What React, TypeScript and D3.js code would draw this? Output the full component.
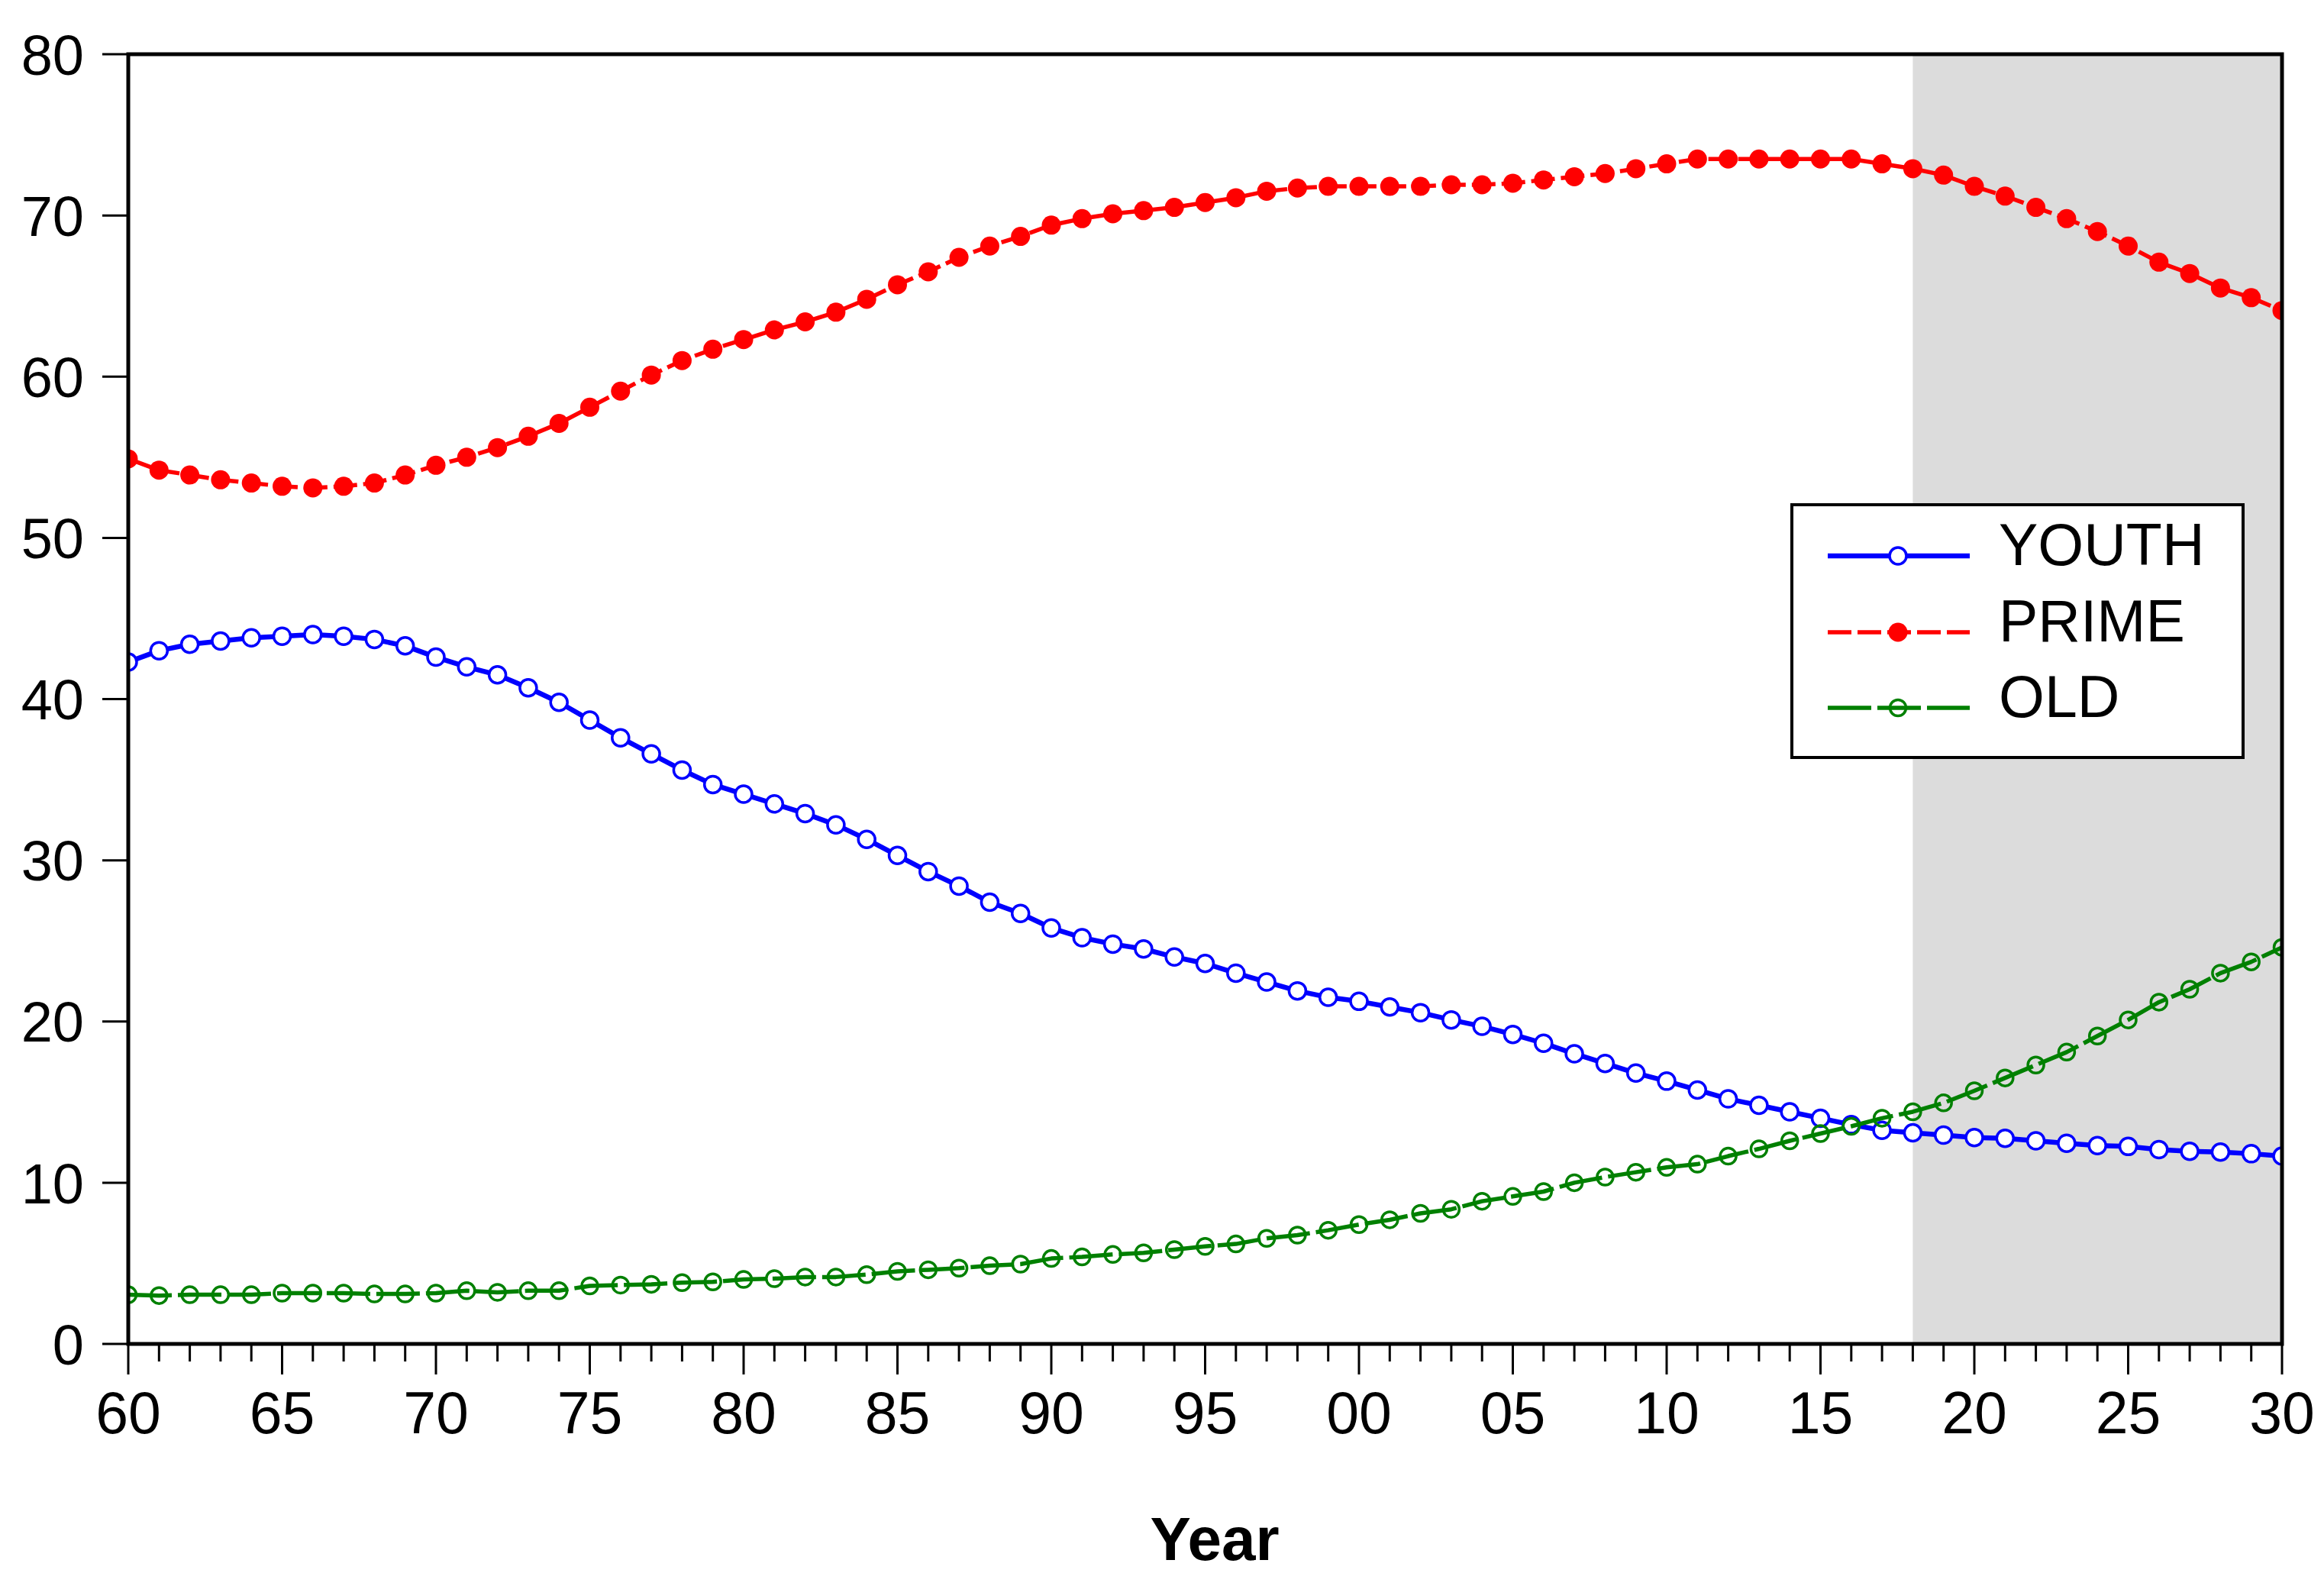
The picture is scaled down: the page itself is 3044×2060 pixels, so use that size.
import React from "react";
import * as d3 from "d3";

const years: number[] = d3.range(1960, 2031);

const youth: number[] = [
  42.3, 43.0, 43.4, 43.6, 43.8, 43.9, 44.0, 43.9, 43.7, 43.3, 42.6, 42.0, 41.5, 40.7, 39.8, 38.7, 37.6, 36.6, 35.6,
  34.7, 34.1, 33.5, 32.9, 32.2, 31.3, 30.3, 29.3, 28.4, 27.4, 26.7, 25.8, 25.2, 24.8, 24.5, 24.0, 23.6,
  23.0, 22.45, 21.9, 21.5, 21.25, 20.9, 20.55, 20.1, 19.7, 19.2, 18.65, 18.0, 17.4, 16.8, 16.3, 15.75, 15.2,
  14.8, 14.4, 14.0, 13.6, 13.25, 13.1, 12.95, 12.8, 12.75, 12.6, 12.45, 12.3, 12.25, 12.05, 11.95, 11.9, 11.8, 11.65,
];

const prime: number[] = [
  54.9, 54.2, 53.9, 53.6, 53.4, 53.2, 53.1, 53.2, 53.4, 53.9, 54.5, 55.0, 55.6, 56.3, 57.1, 58.1, 59.1, 60.1, 61.0,
  61.7, 62.3, 62.9, 63.4, 64.0, 64.8, 65.7, 66.5, 67.4, 68.1, 68.7, 69.4, 69.8, 70.1, 70.3, 70.5, 70.8,
  71.1, 71.5, 71.7, 71.8, 71.8, 71.8, 71.8, 71.9, 71.9, 72.0, 72.2, 72.4, 72.6, 72.9, 73.2, 73.5, 73.5,
  73.5, 73.5, 73.5, 73.5, 73.2, 72.9, 72.5, 71.8, 71.2, 70.5, 69.8, 69.0, 68.1, 67.1, 66.4, 65.5, 64.9, 64.1,
];

const old: number[] = [
  3.05, 3.0, 3.05, 3.05, 3.05, 3.15, 3.15, 3.15, 3.1, 3.1, 3.15, 3.3, 3.2, 3.3, 3.3, 3.6, 3.65, 3.7, 3.8,
  3.85, 4.0, 4.05, 4.15, 4.15, 4.3, 4.5, 4.6, 4.7, 4.85, 4.95, 5.3, 5.4, 5.55, 5.65, 5.85, 6.05,
  6.2, 6.55, 6.75, 7.05, 7.4, 7.7, 8.1, 8.35, 8.85, 9.15, 9.45, 10.0, 10.35, 10.65, 10.95, 11.15, 11.65,
  12.1, 12.6, 13.05, 13.5, 14.0, 14.4, 14.95, 15.7, 16.5, 17.3, 18.1, 19.1, 20.1, 21.2, 22.0, 23.0, 23.7, 24.6,
];

const yTicks: number[] = [0, 10, 20, 30, 40, 50, 60, 70, 80];
const shadeStart = 2018;
const shadeEnd = 2030;
const seriesNames: string[] = ["YOUTH", "PRIME", "OLD"];

const W = 3044;
const H = 2060;
const left = 168;
const right = 2989;
const top = 71;
const bottom = 1760;
const FONT = "'Liberation Sans', Arial, sans-serif";

type Style = {
  color: string;
  width: number;
  dash: string | null;
  marker: "open" | "filled" | "openNoFill";
  r: number;
};

const styles: Style[] = [
  { color: "#0000FF", width: 6.5, dash: null, marker: "open", r: 11 },
  { color: "#FF0000", width: 5.5, dash: "31 8", marker: "filled", r: 12.5 },
  { color: "#008000", width: 5.5, dash: "57 8", marker: "openNoFill", r: 10.5 },
];

export default function App() {
  const x = d3.scaleLinear().domain([1960, 2030]).range([left, right]);
  const y = d3.scaleLinear().domain([0, 80]).range([bottom, top]);
  const data = [youth, prime, old];

  const line = d3
    .line<[number, number]>()
    .x((d) => x(d[0]))
    .y((d) => y(d[1]));

  const markerEl = (st: Style, cx: number, cy: number, key: string) => {
    if (st.marker === "filled") {
      return <circle key={key} cx={cx} cy={cy} r={st.r} fill={st.color} stroke="none" />;
    }
    return (
      <circle
        key={key}
        cx={cx}
        cy={cy}
        r={st.r}
        fill={st.marker === "open" ? "#FFFFFF" : "none"}
        stroke={st.color}
        strokeWidth={3.5}
      />
    );
  };

  const legendX0 = 2347;
  const legendY0 = 661;
  const legendRows = [728, 828, 927];

  return (
    <svg
      width={W}
      height={H}
      style={{ position: "absolute", left: 0, top: 0, background: "#fff" }}
      xmlns="http://www.w3.org/2000/svg"
    >
      <defs>
        <clipPath id="plotClip">
          <rect x={left} y={top} width={right - left} height={bottom - top} />
        </clipPath>
      </defs>
      <rect x={0} y={0} width={W} height={H} fill="#fff" />
      <rect
        x={x(shadeStart)}
        y={top}
        width={x(shadeEnd) - x(shadeStart)}
        height={bottom - top}
        fill="#DCDCDC"
      />

      <g clipPath="url(#plotClip)">
        {data.map((vals, si) => {
          const st = styles[si];
          const pts: [number, number][] = years.map((yr, i) => [yr, vals[i]]);
          return (
            <g key={si}>
              <path
                d={line(pts) || ""}
                fill="none"
                stroke={st.color}
                strokeWidth={st.width}
                strokeDasharray={st.dash || undefined}
                strokeLinejoin="round"
              />
              {pts.map((p, i) => markerEl(st, x(p[0]), y(p[1]), `m${si}-${i}`))}
            </g>
          );
        })}
      </g>

      <rect
        x={left}
        y={top}
        width={right - left}
        height={bottom - top}
        fill="none"
        stroke="#000"
        strokeWidth={5}
      />

      {yTicks.map((t) => (
        <g key={`yt${t}`}>
          <line x1={134} x2={left} y1={y(t)} y2={y(t)} stroke="#000" strokeWidth={3} />
          <text
            x={110}
            y={y(t)}
            dy="0.36em"
            textAnchor="end"
            fontFamily={FONT}
            fontSize={74}
            fill="#000"
          >
            {t}
          </text>
        </g>
      ))}

      {years.map((yr) => {
        const major = yr % 5 === 0;
        return (
          <line
            key={`xt${yr}`}
            x1={x(yr)}
            x2={x(yr)}
            y1={bottom}
            y2={bottom + (major ? 40 : 23)}
            stroke="#000"
            strokeWidth={3}
          />
        );
      })}
      {years
        .filter((yr) => yr % 5 === 0)
        .map((yr) => (
          <text
            key={`xl${yr}`}
            x={x(yr)}
            y={1877}
            textAnchor="middle"
            fontFamily={FONT}
            fontSize={77}
            fill="#000"
          >
            {String(yr % 100).padStart(2, "0")}
          </text>
        ))}

      <text
        x={1591}
        y={2043}
        textAnchor="middle"
        fontFamily={FONT}
        fontWeight="bold"
        fontSize={80}
        fill="#000"
      >
        Year
      </text>

      <rect
        x={legendX0}
        y={legendY0}
        width={2938 - legendX0}
        height={992 - legendY0}
        fill="#fff"
        stroke="#000"
        strokeWidth={4}
      />
      {seriesNames.map((name, i) => {
        const st = styles[i];
        const ly = legendRows[i];
        return (
          <g key={`lg${i}`}>
            <line
              x1={2394}
              x2={2580}
              y1={ly}
              y2={ly}
              stroke={st.color}
              strokeWidth={st.width}
              strokeDasharray={st.dash || undefined}
            />
            {markerEl(st, 2486, ly, `lm${i}`)}
            <text x={2618} y={ly + 12} fontFamily={FONT} fontSize={77} fill="#000">
              {name}
            </text>
          </g>
        );
      })}
    </svg>
  );
}
